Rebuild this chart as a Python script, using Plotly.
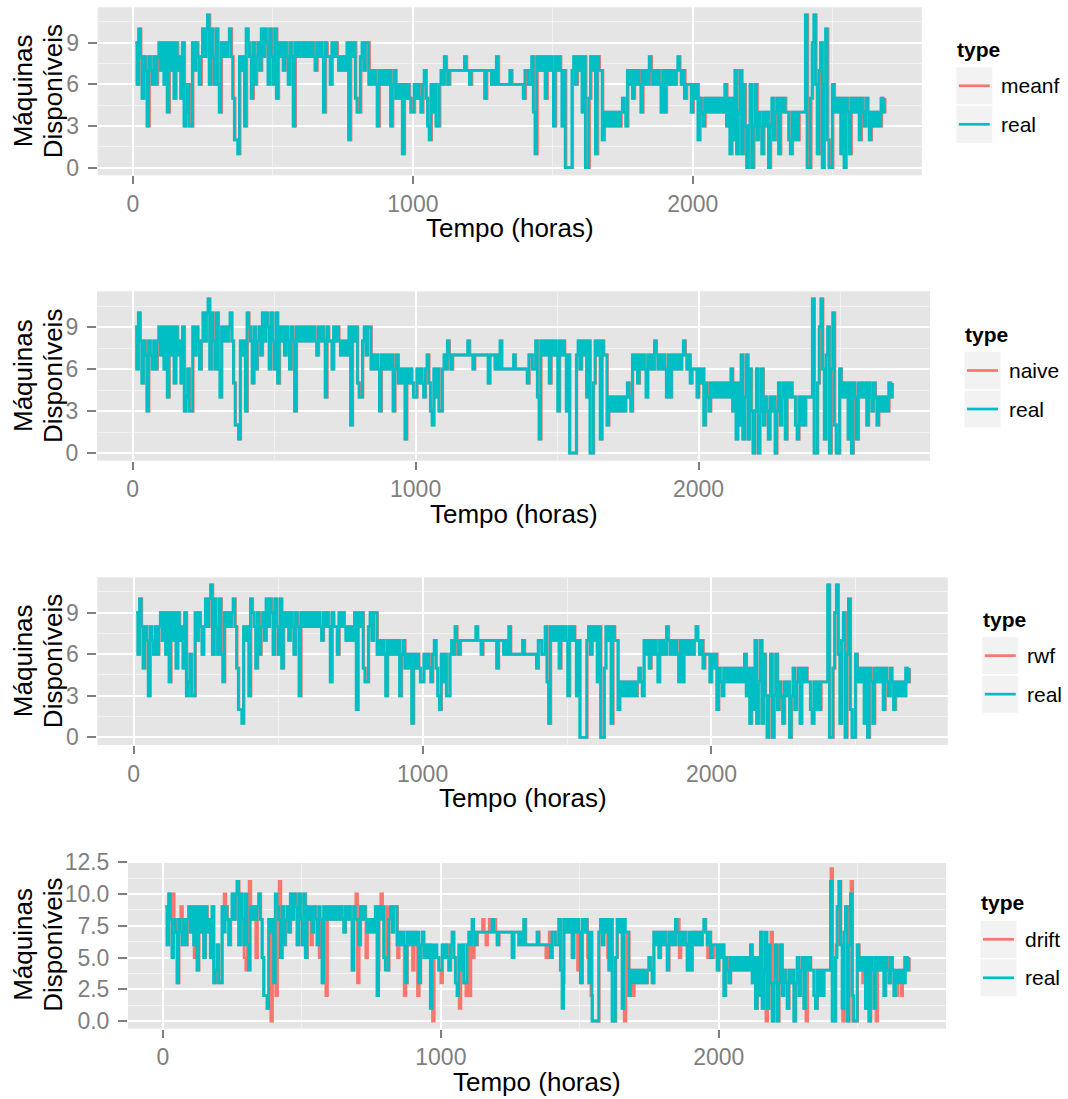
import plotly.graph_objects as go

W, H = 1068, 1099

# Hourly availability sampled every 6 h, starting at hour 8
T0, STEP = 8, 6
real_a = [9, 6, 10, 8, 5, 8, 7, 3, 8, 7,
          6, 8, 6, 8, 9, 7, 9, 6, 9, 4,
          9, 7, 9, 5, 9, 7, 8, 5, 9, 3,
          4, 6, 3, 3, 9, 7, 9, 8, 6, 8,
          10, 8, 10, 11, 6, 10, 8, 6, 10, 6,
          4, 9, 8, 9, 8, 9, 10, 8, 5, 2,
          2, 1, 8, 7, 8, 3, 10, 9, 8, 5,
          9, 6, 8, 9, 7, 10, 8, 10, 9, 6,
          10, 8, 6, 10, 5, 9, 8, 9, 7, 9,
          8, 6, 9, 8, 3, 9, 8, 9, 8, 9,
          8, 9, 8, 9, 8, 9, 8, 7, 9, 8,
          9, 8, 4, 9, 8]
real_b = [8, 6, 9, 8, 9, 8, 7, 8, 7, 8,
          7, 9, 2, 9, 8, 9, 5, 4, 4, 8,
          9, 7, 9, 9, 6, 7, 6, 7, 6, 3,
          7, 6, 7, 6, 7, 6, 7, 3, 6, 7,
          5, 6, 5, 6, 1, 6, 5, 6, 5, 4,
          4, 6, 5, 6, 5, 4, 6, 7, 5, 3,
          2, 6, 4, 6, 3, 3, 6, 7, 6, 8,
          7, 6, 7, 7, 7, 7, 7, 7, 7, 7,
          7, 8, 7, 7, 6, 7, 7, 7, 7, 7,
          7, 7, 7, 5, 7, 7, 7, 6, 7, 6,
          8, 6, 6, 6, 6, 6, 6, 6, 7, 6,
          6, 6, 6, 6, 6, 6, 5, 7]
real_c = [7, 6, 6, 8, 4, 1, 8, 7, 8, 7,
          8, 5, 8, 7, 8, 7, 3, 8, 7, 8,
          7, 3, 7, 0, 0, 0, 0, 7, 8, 6,
          8, 7, 8, 4, 8, 0, 0, 5, 8, 7,
          8, 1, 8, 7, 7, 2, 4, 3, 4, 3,
          4, 3, 4, 3, 4, 3, 4, 5, 4, 3,
          7, 6, 7, 5, 7, 6, 7, 6, 4, 7,
          6, 7, 6, 8, 7, 6, 7, 6, 7, 6,
          4, 7, 4, 7, 6, 7, 6, 7, 6, 7,
          8, 7, 6, 7, 5, 6, 6, 6, 4, 6,
          5, 6, 2, 5, 4, 3, 5, 4, 5, 4,
          5, 4, 5, 4, 5, 4, 5, 4]
real_d = [6, 3, 5, 1, 5, 2, 7, 1, 4, 7,
          1, 6, 3, 0, 3, 6, 0, 3, 6, 2,
          4, 3, 1, 4, 3, 4, 0, 3, 5, 2,
          4, 5, 1, 5, 4, 5, 4, 4, 2, 1,
          4, 2, 4, 2, 4, 4, 4, 4, 11, 0,
          0, 5, 9, 11, 6, 1, 7, 9, 0, 6,
          10, 2, 0, 0, 6, 4, 5, 4, 5, 1,
          5, 0, 5, 4, 1, 5, 4, 5, 4, 5,
          2, 5, 4, 3, 5, 4, 2, 4, 3, 4,
          3, 4, 3, 5, 4, 5]

# Hours where the drift fit departs from the observed series, and its value there
drift_peak_hours = [30, 63, 107, 215, 290, 298, 305, 330, 384, 402,
                    413, 497, 527, 557, 581, 690, 696, 726, 768, 780,
                    800, 840, 864, 894, 912, 965, 977, 1000, 1055, 1065,
                    1085, 1100, 1113, 1145, 1157, 1169, 1187, 1343, 1373, 1385,
                    1433, 1487, 1523, 1535, 1595, 1657, 1685, 1769, 1852, 1858,
                    1894, 1960, 1978, 2170, 2188, 2245, 2314, 2402, 2421, 2445,
                    2476, 2482, 2518, 2566, 2638, 2656, 2668]
drift_peak_values = [10, 9, 5, 10, 5, 4, 11, 5, 0, 2,
                     11, 6, 6, 5, 2, 10, 3, 5, 4, 10,
                     9, 5, 2, 4, 2, 0, 5, 3, 2, 1,
                     2, 2, 5, 8, 6, 8, 8, 7, 5, 7,
                     3, 4, 5, 2, 5, 0, 2, 7, 8, 5,
                     4, 5, 5, 0, 7, 1, 0, 12, 6, 0,
                     11, 0, 3, 0, 2, 2, 5]

methods = ["meanf", "naive", "rwf", "drift"]
fit_lag_hours = [3, 2, 2, 2]

real = real_a + real_b + real_c + real_d
hours = [T0 + STEP * i for i in range(len(real))]

drift_fit = list(real)
for h, v in zip(drift_peak_hours, drift_peak_values):
    drift_fit[int((h - T0) / STEP + 0.5)] = v
fits = [real, real, real, drift_fit]

RED, CYAN = "#F8766D", "#00BFC4"
FONT = "Liberation Sans, Arial, Helvetica, sans-serif"
GREY_TXT = "#7F7F7F"

# panel boxes in pixels: left, right, top, bottom
panels = [
    (97.7, 921.8, 7.3, 175.3),
    (97.0, 930.0, 291.3, 460.7),
    (97.3, 947.8, 577.4, 744.9),
    (128.0, 946.0, 861.0, 1028.6),
]
X_RANGE = [-126, 2818]


def fx(px):
    return px / W


def fy(py):
    return 1 - py / H


fig = go.Figure()
layout = dict(
    width=W, height=H, autosize=False,
    margin=dict(l=0, r=0, t=0, b=0, autoexpand=False),
    paper_bgcolor="white", plot_bgcolor="#E5E5E5",
    showlegend=False, font=dict(family=FONT, color="black"),
    shapes=[], annotations=[],
)

for k, (l, r, t, b) in enumerate(panels):
    sfx = "" if k == 0 else str(k + 1)
    xa, ya = "x" + sfx, "y" + sfx
    fig.add_trace(go.Scatter(
        x=[h + fit_lag_hours[k] for h in hours], y=fits[k], mode="lines",
        line=dict(color=RED, width=2.8, shape="hv"), xaxis=xa, yaxis=ya,
        hoverinfo="skip"))
    fig.add_trace(go.Scatter(
        x=hours, y=real, mode="lines",
        line=dict(color=CYAN, width=2.8, shape="hv"), xaxis=xa, yaxis=ya,
        hoverinfo="skip"))

    if k < 3:
        yr, ydt, yminor, yfmt = [-0.55, 11.55], 3, 1.5, "d"
    else:
        yr, ydt, yminor, yfmt = [-0.6, 12.6], 2.5, 1.25, ".1f"

    layout["xaxis" + sfx] = dict(
        domain=[fx(l), fx(r)], range=X_RANGE, anchor=ya,
        tickmode="linear", tick0=0, dtick=1000,
        showgrid=True, gridcolor="white", gridwidth=2,
        minor=dict(tickmode="linear", tick0=0, dtick=500, showgrid=True,
                   gridcolor="#F2F2F2", gridwidth=1.2),
        ticks="outside", ticklen=8, tickwidth=2, tickcolor=GREY_TXT,
        tickfont=dict(size=23, color=GREY_TXT, family=FONT),
        zeroline=False, showline=False, fixedrange=True, automargin=False)
    layout["yaxis" + sfx] = dict(
        domain=[fy(b), fy(t)], range=yr, anchor=xa,
        tickmode="linear", tick0=0, dtick=ydt, tickformat=yfmt,
        showgrid=True, gridcolor="white", gridwidth=2,
        minor=dict(tickmode="linear", tick0=0, dtick=yminor, showgrid=True,
                   gridcolor="#F2F2F2", gridwidth=1.2),
        ticks="outside", ticklen=9, tickwidth=2, tickcolor=GREY_TXT,
        tickfont=dict(size=23, color=GREY_TXT, family=FONT),
        ticklabelstandoff=4,
        zeroline=False, showline=False, fixedrange=True, automargin=False)

    cy = (t + b) / 2
    # axis titles
    layout["annotations"].append(dict(
        text="Tempo (horas)", xref="paper", yref="paper",
        x=fx((l + r) / 2), y=fy(b + 53), xanchor="center", yanchor="middle",
        showarrow=False, font=dict(size=26, family=FONT, color="black")))
    for txt, px in (("Máquinas", 23), ("Disponíveis", 53)):
        layout["annotations"].append(dict(
            text=txt, xref="paper", yref="paper", textangle=-90,
            x=fx(px), y=fy(cy), xanchor="center", yanchor="middle",
            showarrow=False, font=dict(size=26, family=FONT, color="black")))

    # legend
    kx0 = r + 34
    kx1 = kx0 + 37
    layout["annotations"].append(dict(
        text="<b>type</b>", xref="paper", yref="paper",
        x=fx(kx0 - 1), y=fy(cy - 42), xanchor="left", yanchor="middle",
        showarrow=False, font=dict(size=21, family=FONT, color="black")))
    for j, (lab, col) in enumerate(((methods[k], RED), ("real", CYAN))):
        kc = cy - 5.5 + 38.5 * j
        layout["shapes"].append(dict(
            type="rect", xref="paper", yref="paper",
            x0=fx(kx0), x1=fx(kx1), y0=fy(kc + 19), y1=fy(kc - 19),
            fillcolor="#F2F2F2", line=dict(color="white", width=1), layer="above"))
        layout["shapes"].append(dict(
            type="line", xref="paper", yref="paper",
            x0=fx(kx0 + 3), x1=fx(kx1 - 3), y0=fy(kc), y1=fy(kc),
            line=dict(color=col, width=2.7), layer="above"))
        layout["annotations"].append(dict(
            text=lab, xref="paper", yref="paper",
            x=fx(kx1 + 6), y=fy(kc), xanchor="left", yanchor="middle",
            showarrow=False, font=dict(size=21, family=FONT, color="black")))

fig.update_layout(**layout)
fig.write_html("out.html")
